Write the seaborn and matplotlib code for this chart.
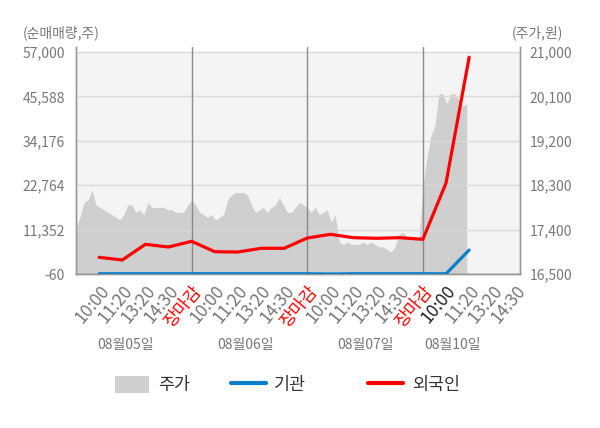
import numpy as np
import pandas as pd
import matplotlib
matplotlib.use("Agg")
import matplotlib.pyplot as plt
import seaborn as sns
from matplotlib.patches import Patch
from matplotlib.lines import Line2D

sns.set_theme(style="white")
plt.rcParams['font.family'] = ['Noto Sans CJK KR', 'DejaVu Sans']

# x-axis tick labels (one per tick position 1..19)
time_labels = ["10:00", "11:20", "13:20", "14:30", "장마감",
               "10:00", "11:20", "13:20", "14:30", "장마감",
               "10:00", "11:20", "13:20", "14:30", "장마감",
               "10:00", "11:20", "13:20", "14:30"]
day_labels = ["08월05일", "08월06일", "08월07일", "08월10일"]

# net buying (shares) at tick positions 1..17
foreign = [4230, 3540, 7570, 6880, 8340, 5670, 5590, 6550, 6550,
           9190, 10140, 9270, 9120, 9270, 8860, 23330, 55630]
institution = [0, 0, 0, 0, 0, 0, 0, 0, 0, 0, -60, 0, 0, 0, 0, 0, 6100]

# intraday stock price (won), evenly sampled through each day
price_day1 = [17450, 17650, 17950, 18000, 18200, 17900, 17850, 17800, 17750, 17700,
              17650, 17600, 17700, 17900, 17900, 17750, 17800, 17700, 17950, 17850,
              17850, 17850, 17850, 17800, 17800, 17750, 17750, 17750, 17900]
price_day2 = [18000, 17900, 17750, 17700, 17650, 17700, 17600, 17650, 17700, 18000,
              18100, 18150, 18150, 18150, 18100, 17900, 17750, 17800, 17850, 17750,
              17850, 17900, 18050, 17900, 17750, 17750, 17850, 17950, 17900]
price_day3 = [17850, 17750, 17850, 17700, 17750, 17800, 17550, 17700, 17150, 17100,
              17150, 17100, 17100, 17100, 17150, 17100, 17150, 17100, 17050, 17050,
              17000, 16950, 17050, 17300, 17350, 17250, 17200, 17200, 17200]
price_day4 = [18250, 18850, 19300, 19500, 20150, 20150, 19950, 20150, 20150, 20050,
              19900, 19950]

left_ticks = [-60, 11352, 22764, 34176, 45588, 57000]
right_ticks = [16500, 17400, 18300, 19200, 20100, 21000]

n_per_day = len(price_day1)
px, py = [], []
for d, vals in enumerate([price_day1, price_day2, price_day3, price_day4]):
    for i, v in enumerate(vals):
        px.append(5 * d + i * 5 / n_per_day)
        py.append(v)
price_df = pd.DataFrame({"x": px, "price": py})

flow_df = pd.DataFrame({
    "x": np.arange(1, len(foreign) + 1),
    "외국인": foreign,
    "기관": institution,
})

fig = plt.figure(figsize=(6, 4.28), dpi=100)
ax = fig.add_axes([0.1267, 0.3598, 0.74, 0.5304])
ax2 = ax.twinx()

# price area on the right axis
ax2.axhspan(16500, 21000, color="#f4f4f4", zorder=0, lw=0)
ax2.fill_between(price_df["x"], 16500, price_df["price"],
                 color="#cfcfcf", lw=0, zorder=1)
ax2.set_ylim(16500, 21000 + 5 * 4500 / 222)
ax2.set_yticks(right_ticks)
ax2.set_yticklabels([f"{t:,}" for t in right_ticks])

# net buying lines on the left axis, drawn above the price area
ax.set_zorder(ax2.get_zorder() + 1)
ax.patch.set_visible(False)
for t in left_ticks[1:]:
    ax.axhline(t, color="#d9d9d9", lw=1, zorder=1)
ax.axhline(0, color="#999999", lw=1, zorder=1)
for b in [5, 10, 15]:
    ax.axvline(b, color="#8c8c8c", lw=1, zorder=2)
sns.lineplot(data=flow_df, x="x", y="기관", color="#0a7ecb", lw=2.3, ax=ax, zorder=3)
sns.lineplot(data=flow_df, x="x", y="외국인", color="#ff0000", lw=2.3, ax=ax, zorder=4)

ax.set_xlim(0, 19.2)
ax.set_ylim(-60, 57000 + 5 * 57060 / 222)
ax.set_yticks(left_ticks)
ax.set_yticklabels([f"{t:,}" for t in left_ticks])
ax.set_xlabel("")
ax.set_ylabel("")
ax2.set_ylabel("")

ax.set_xticks(np.arange(1, len(time_labels) + 1))
ax.set_xticklabels(time_labels, rotation=50, ha="right", rotation_mode="anchor")
for i, lab in enumerate(ax.get_xticklabels()):
    if lab.get_text() == "장마감":
        lab.set_color("#ff0000")
    elif i == 15:
        lab.set_color("#222222")
    else:
        lab.set_color("#777777")
ax.set_xticks([0, 5, 10, 15, 19.2], minor=True)
ax.tick_params(axis="x", which="major", length=0, pad=6, labelsize=12.5)
ax.tick_params(axis="x", which="minor", length=5, color="#999999", width=1)
ax.tick_params(axis="y", length=0, pad=8, labelsize=10, labelcolor="#777777")
ax2.tick_params(axis="y", length=0, pad=7, labelsize=10, labelcolor="#777777")

for a in (ax, ax2):
    a.spines["top"].set_visible(False)
    for s in ["left", "right", "bottom"]:
        a.spines[s].set_color("#999999")
        a.spines[s].set_linewidth(1)

for pos, lab in zip([2.12, 7.31, 12.5, 16.26], day_labels):
    ax.text(pos, -0.313, lab, transform=ax.get_xaxis_transform(),
            ha="center", va="center", fontsize=10, color="#777777")

fig.text(0.102, 0.923, "(순매매량,주)", ha="center", va="center", fontsize=10, color="#777777")
fig.text(0.895, 0.923, "(주가,원)", ha="center", va="center", fontsize=10, color="#777777")

leg_items = [
    (Patch(facecolor="#cfcfcf", edgecolor="none"), "주가", 0.19),
    (Line2D([], [], color="#0a7ecb", lw=3), "기관", 0.384),
    (Line2D([], [], color="#ff0000", lw=3), "외국인", 0.613),
]
for handle, label, xpos in leg_items:
    fig.legend([handle], [label], loc="center left", bbox_to_anchor=(xpos - 0.025, 0.1),
               frameon=False, fontsize=12.5, handlelength=2.0, handleheight=1.1,
               handletextpad=0.5, labelcolor="#333333")

fig.savefig("out.png", dpi=100)
